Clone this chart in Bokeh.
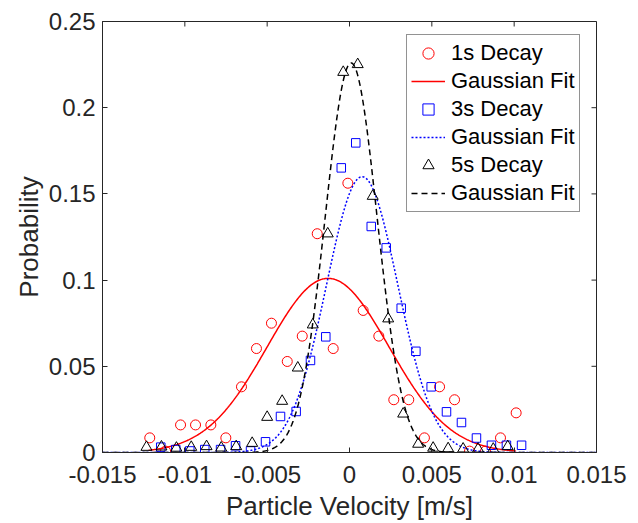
import numpy as np
from bokeh.plotting import figure
from bokeh.models import Range1d, FixedTicker, Legend, LegendItem
from bokeh.embed import file_html
from bokeh.resources import INLINE

# ---- data ----
x_1s = [-0.01213, -0.01117, -0.01026, -0.00935, -0.00842, -0.00751, -0.00656, -0.00565,
        -0.00474, -0.00378, -0.00287, -0.00196, -0.00099, -0.00010, 0.00083, 0.00178,
        0.00269, 0.00360, 0.00455, 0.00547, 0.00638, 0.00729, 0.00826, 0.00917, 0.01012]
p_1s = [0.0085, 0.0008, 0.0160, 0.0160, 0.0160, 0.0085, 0.0381, 0.0603,
        0.0750, 0.0528, 0.0675, 0.1269, 0.0603, 0.1562, 0.0824, 0.0675,
        0.0306, 0.0306, 0.0085, 0.0381, 0.0306, 0.0008, 0.0008, 0.0085, 0.0230]

x_3s = [-0.01146, -0.01055, -0.00970, -0.00879, -0.00783, -0.00692, -0.00601, -0.00510,
        -0.00419, -0.00324, -0.00237, -0.00144, -0.00050, 0.00038, 0.00132, 0.00223,
        0.00314, 0.00403, 0.00496, 0.00589, 0.00680, 0.00771, 0.00862, 0.00953, 0.01045]
p_3s = [0.0031, 0.0017, 0.0009, 0.0017, 0.0017, 0.0039, 0.0009, 0.0062,
        0.0209, 0.0238, 0.0534, 0.0671, 0.1651, 0.1796, 0.1311, 0.1187,
        0.0837, 0.0587, 0.0381, 0.0236, 0.0174, 0.0084, 0.0042, 0.0042, 0.0042]

x_5s = [-0.01233, -0.01142, -0.01051, -0.00961, -0.00868, -0.00779, -0.00688, -0.00591,
        -0.00500, -0.00409, -0.00314, -0.00223, -0.00132, -0.00038, 0.00050, 0.00141,
        0.00235, 0.00326, 0.00417, 0.00508, 0.00599, 0.00690, 0.00781, 0.00873, 0.00961]
p_5s = [0.0031, 0.0033, 0.0026, 0.0031, 0.0035, 0.0027, 0.0035, 0.0054,
        0.0205, 0.0298, 0.0491, 0.0741, 0.1269, 0.2206, 0.2251, 0.1487,
        0.0776, 0.0224, 0.0049, 0.0026, 0.0023, 0.0021, 0.0021, 0.0020, 0.0035]

# Gaussian fit parameters: amplitude, mean, sigma, plotted x-span
fit_1s = dict(a=0.101, mu=-0.0013, sigma=0.0037, x0=-0.0122, x1=0.0101)
fit_3s = dict(a=0.160, mu=0.00077, sigma=0.00217, x0=-0.015, x1=0.015)
fit_5s = dict(a=0.226, mu=0.0001, sigma=0.00157, x0=-0.015, x1=0.015)

x_ticks = [-0.015, -0.01, -0.005, 0, 0.005, 0.01, 0.015]
x_tick_labels = ["-0.015", "-0.01", "-0.005", "0", "0.005", "0.01", "0.015"]
y_ticks = [0, 0.05, 0.1, 0.15, 0.2, 0.25]
y_tick_labels = ["0", "0.05", "0.1", "0.15", "0.2", "0.25"]

x_title = "Particle Velocity [m/s]"
y_title = "Probability"
labels = ["1s Decay", "Gaussian Fit", "3s Decay", "Gaussian Fit", "5s Decay", "Gaussian Fit"]


def gauss_curve(f):
    xs = np.linspace(f["x0"], f["x1"], 400)
    ys = f["a"] * np.exp(-((xs - f["mu"]) ** 2) / (2 * f["sigma"] ** 2))
    return xs, ys


FONT = "Liberation Sans"
AX = "#262626"
W, H = 638, 523
BL, BR, BT, BB = 102, 42, 21, 71
X0, X1, Y0, Y1 = -0.015, 0.015, 0.0, 0.25

p = figure(width=W, height=H, output_backend="svg", toolbar_location=None,
           x_range=Range1d(X0, X1), y_range=Range1d(Y0, Y1),
           min_border_left=BL, min_border_right=BR, min_border_top=BT,
           min_border_bottom=BB, background_fill_color="white",
           border_fill_color="white")
p.grid.visible = False
p.outline_line_color = AX
p.outline_line_width = 1

r1 = p.scatter(x_1s, p_1s, marker="circle", size=10, fill_color=None,
               line_color="#FF0000", line_width=1)
xs, ys = gauss_curve(fit_1s)
l1 = p.line(xs, ys, line_color="#FF0000", line_width=1.5)
r2 = p.scatter(x_3s, p_3s, marker="square", size=8.5, fill_color=None,
               line_color="#0000FF", line_width=1)
xs, ys = gauss_curve(fit_3s)
l2 = p.line(xs, ys, line_color="#0000FF", line_width=1.5, line_dash="2 2")
r3 = p.scatter(x_5s, p_5s, marker="triangle", size=11, fill_color=None,
               line_color="black", line_width=1)
xs, ys = gauss_curve(fit_5s)
l3 = p.line(xs, ys, line_color="black", line_width=1.5, line_dash="6 4")

# inward ticks on the top and right edges of the box (5 px long)
tick_dy = 5 * (Y1 - Y0) / (H - BT - BB)
tick_dx = 5 * (X1 - X0) / (W - BL - BR)
p.segment(x0=x_ticks, y0=[Y1] * len(x_ticks), x1=x_ticks,
          y1=[Y1 - tick_dy] * len(x_ticks), line_color=AX, line_width=1)
p.segment(x0=[X1] * len(y_ticks), y0=y_ticks, x1=[X1 - tick_dx] * len(y_ticks),
          y1=y_ticks, line_color=AX, line_width=1)

for ax in (p.xaxis[0], p.yaxis[0]):
    ax.axis_line_color = AX
    ax.major_tick_line_color = AX
    ax.major_tick_in = 5
    ax.major_tick_out = 0
    ax.minor_tick_line_color = None
    ax.major_label_text_font = FONT
    ax.major_label_text_color = AX
    ax.major_label_text_font_size = "24px"
    ax.axis_label_text_font = FONT
    ax.axis_label_text_font_size = "26px"
    ax.axis_label_text_font_style = "normal"
    ax.axis_label_text_color = AX

xa = p.xaxis[0]
xa.ticker = FixedTicker(ticks=x_ticks)
xa.major_label_overrides = {t: s for t, s in zip(x_ticks, x_tick_labels)}
xa.major_label_standoff = 13
xa.axis_label = x_title
xa.axis_label_standoff = 5

ya = p.yaxis[0]
ya.ticker = FixedTicker(ticks=y_ticks)
ya.major_label_overrides = {t: s for t, s in zip(y_ticks, y_tick_labels)}
ya.major_label_standoff = 7
ya.axis_label = y_title
ya.axis_label_standoff = 2

legend = Legend(items=[
    LegendItem(label=labels[0], renderers=[r1]),
    LegendItem(label=labels[1], renderers=[l1]),
    LegendItem(label=labels[2], renderers=[r2]),
    LegendItem(label=labels[3], renderers=[l2]),
    LegendItem(label=labels[4], renderers=[r3]),
    LegendItem(label=labels[5], renderers=[l3]),
], location=(304, 240))
legend.label_text_font = FONT
legend.label_text_font_size = "22px"
legend.label_text_color = "black"
legend.glyph_width = 34
legend.glyph_height = 28
legend.label_height = 28
legend.label_standoff = 6
legend.spacing = 0
legend.padding = 4
legend.margin = 0
legend.border_line_color = AX
legend.border_line_width = 1
legend.background_fill_alpha = 1
p.add_layout(legend, "center")

open("out.html", "w").write(file_html(p, INLINE))
